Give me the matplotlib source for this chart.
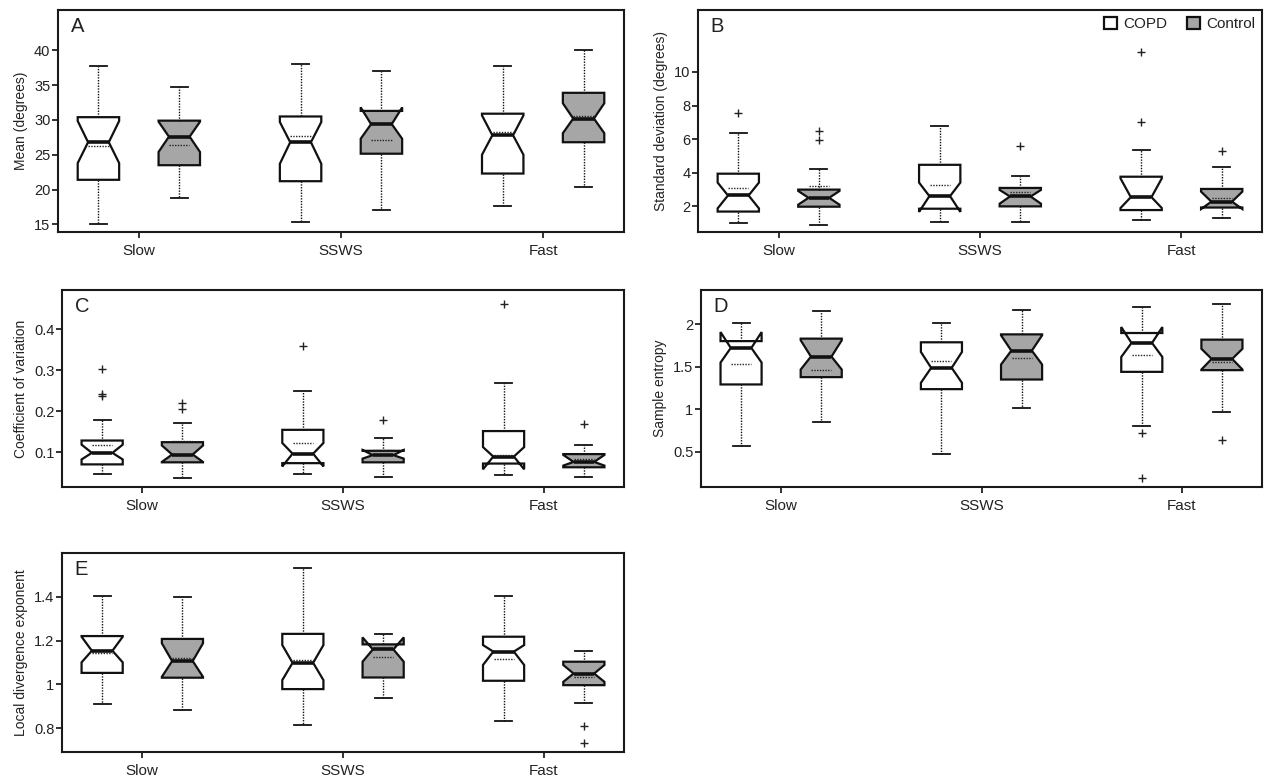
import matplotlib
matplotlib.use("Agg")
import matplotlib.pyplot as plt
from matplotlib.patches import Patch
from matplotlib.ticker import FormatStrFormatter

plt.rcParams['font.family'] = ['Liberation Sans', 'DejaVu Sans']
plt.rcParams['text.color'] = '#222222'
plt.rcParams['axes.labelcolor'] = '#222222'
plt.rcParams['xtick.color'] = '#222222'
plt.rcParams['ytick.color'] = '#222222'

speeds = ["Slow", "SSWS", "Fast"]
groups = ["COPD", "Control"]
colors = ["white", "#a6a6a6"]

# each stat: [[COPD slow, sswS, fast], [Control slow, ssws, fast]]
# A - mean angle
a_whishi = [[37.8, 38.1, 37.7], [34.8, 37.0, 40.1]]
a_q3 = [[30.4, 30.5, 30.9], [29.9, 31.3, 33.9]]
a_cihi = [[29.85, 29.7, 30.65], [29.75, 31.8, 32.4]]
a_med = [[26.8, 26.8, 27.8], [27.6, 29.4, 30.2]]
a_cilo = [[23.8, 23.7, 25.0], [25.4, 27.3, 28.1]]
a_q1 = [[21.4, 21.2, 22.3], [23.5, 25.15, 26.8]]
a_whislo = [[15.0, 15.3, 17.6], [18.8, 17.1, 20.3]]
a_mean = [[26.2, 27.7, 28.2], [26.4, 27.1, 30.6]]
a_fliers = [[[], [], []], [[], [], []]]

# B - standard deviation
b_whishi = [[6.36, 6.78, 5.36], [4.20, 3.81, 4.34]]
b_q3 = [[3.93, 4.46, 3.75], [2.98, 3.08, 3.02]]
b_cihi = [[3.40, 3.40, 3.65], [2.90, 2.96, 2.86]]
b_med = [[2.63, 2.59, 2.53], [2.49, 2.57, 2.26]]
b_cilo = [[1.86, 1.65, 1.88], [2.08, 2.14, 1.82]]
b_q1 = [[1.67, 1.84, 1.76], [1.96, 1.98, 1.91]]
b_whislo = [[0.98, 1.04, 1.19], [0.88, 1.04, 1.31]]
b_mean = [[3.10, 3.24, 2.61], [3.22, 2.81, 2.47]]
b_fliers = [[[7.54], [], [11.2, 7.01]], [[6.50, 5.95], [5.56], [5.30]]]

# C - coefficient of variation
c_whishi = [[0.178, 0.250, 0.270], [0.172, 0.136, 0.118]]
c_q3 = [[0.129, 0.155, 0.152], [0.125, 0.104, 0.096]]
c_cihi = [[0.119, 0.123, 0.113], [0.117, 0.106, 0.094]]
c_med = [[0.099, 0.097, 0.090], [0.095, 0.0935, 0.077]]
c_cilo = [[0.083, 0.066, 0.059], [0.077, 0.085, 0.068]]
c_q1 = [[0.071, 0.074, 0.073], [0.076, 0.076, 0.064]]
c_whislo = [[0.047, 0.0475, 0.045], [0.037, 0.041, 0.040]]
c_mean = [[0.119, 0.122, 0.094], [0.127, 0.105, 0.085]]
c_fliers = [[[0.304, 0.242, 0.237], [0.360], [0.461]], [[0.220, 0.206], [0.178], [0.170]]]

# D - sample entropy
d_whishi = [[2.012, 2.012, 2.203], [2.148, 2.171, 2.234]]
d_q3 = [[1.80, 1.786, 1.895], [1.829, 1.879, 1.817]]
d_cihi = [[1.906, 1.673, 1.965], [1.81, 1.868, 1.71]]
d_med = [[1.72, 1.486, 1.778], [1.618, 1.688, 1.591]]
d_cilo = [[1.548, 1.31, 1.614], [1.466, 1.525, 1.466]]
d_q1 = [[1.291, 1.236, 1.439], [1.377, 1.349, 1.459]]
d_whislo = [[0.574, 0.469, 0.808], [0.851, 1.014, 0.972]]
d_mean = [[1.529, 1.568, 1.638], [1.459, 1.599, 1.56]]
d_fliers = [[[], [], [0.718, 0.196]], [[], [], [0.637]]]

# E - local divergence exponent
e_whishi = [[1.406, 1.531, 1.406], [1.40, 1.231, 1.151]]
e_q3 = [[1.221, 1.231, 1.218], [1.208, 1.183, 1.104]]
e_cihi = [[1.218, 1.18, 1.18], [1.188, 1.215, 1.089]]
e_med = [[1.154, 1.099, 1.15], [1.107, 1.16, 1.05]]
e_cilo = [[1.101, 1.02, 1.089], [1.035, 1.104, 1.012]]
e_q1 = [[1.053, 0.979, 1.017], [1.031, 1.032, 0.997]]
e_whislo = [[0.913, 0.814, 0.835], [0.882, 0.937, 0.916]]
e_mean = [[1.142, 1.111, 1.115], [1.119, 1.127, 1.035]]
e_fliers = [[[], [], []], [[], [], [0.812, 0.733]]]

panels = [
    ("A", "Mean (degrees)", (a_whishi, a_q3, a_cihi, a_med, a_cilo, a_q1, a_whislo, a_mean, a_fliers),
     (13.9, 45.8), [15, 20, 25, 30, 35, 40], (58, 10, 624, 232)),
    ("B", "Standard deviation (degrees)", (b_whishi, b_q3, b_cihi, b_med, b_cilo, b_q1, b_whislo, b_mean, b_fliers),
     (0.45, 13.7), [2, 4, 6, 8, 10], (698, 10, 1262, 232)),
    ("C", "Coefficient of variation", (c_whishi, c_q3, c_cihi, c_med, c_cilo, c_q1, c_whislo, c_mean, c_fliers),
     (0.016, 0.495), [0.1, 0.2, 0.3, 0.4], (62, 290, 624, 487)),
    ("D", "Sample entropy", (d_whishi, d_q3, d_cihi, d_med, d_cilo, d_q1, d_whislo, d_mean, d_fliers),
     (0.087, 2.40), [0.5, 1, 1.5, 2], (701, 290, 1262, 487)),
    ("E", "Local divergence exponent", (e_whishi, e_q3, e_cihi, e_med, e_cilo, e_q1, e_whislo, e_mean, e_fliers),
     (0.692, 1.60), [0.8, 1, 1.2, 1.4], (62, 553, 624, 752)),
]

W, H = 1264, 781
fig = plt.figure(figsize=(W / 100, H / 100), dpi=100)

offsets = [-0.2, 0.2]
bw = 0.205

for letter, ylabel, st, ylim, yticks, (x0, y0, x1, y1) in panels:
    ax = fig.add_axes([x0 / W, 1 - y1 / H, (x1 - x0) / W, (y1 - y0) / H])
    whishi, q3, cihi, med, cilo, q1, whislo, mean, fliers = st
    for g in range(2):
        stats = []
        pos = []
        for s in range(3):
            stats.append(dict(med=med[g][s], q1=q1[g][s], q3=q3[g][s],
                              cilo=cilo[g][s], cihi=cihi[g][s],
                              whislo=whislo[g][s], whishi=whishi[g][s],
                              fliers=fliers[g][s]))
            pos.append(s + 1 + offsets[g])
        ax.bxp(stats, positions=pos, widths=bw, capwidths=0.085,
               shownotches=True, patch_artist=True, manage_ticks=False,
               boxprops=dict(facecolor=colors[g], edgecolor='#111111', linewidth=1.6),
               medianprops=dict(color='#111111', linewidth=2.6, solid_capstyle='butt'),
               whiskerprops=dict(color='#111111', linewidth=1.0, linestyle=(0, (1, 1))),
               capprops=dict(color='#111111', linewidth=1.3),
               flierprops=dict(marker='+', markeredgecolor='#222222', markersize=6,
                               markeredgewidth=1.0))
        ax.hlines(mean[g], [p - 0.05 for p in pos], [p + 0.05 for p in pos],
                  colors='#222222', linestyles=(0, (1, 1)), linewidth=1.0, zorder=4)

    ax.set_xlim(0.6, 3.4)
    ax.set_ylim(*ylim)
    ax.set_yticks(yticks)
    ax.yaxis.set_major_formatter(FormatStrFormatter('%g'))
    ax.set_xticks([1, 2, 3])
    ax.set_xticklabels(speeds, fontsize=11)
    ax.tick_params(axis='y', labelsize=10.5, length=4, width=1.3, pad=1.5)
    ax.tick_params(axis='x', length=4.5, width=1.3, pad=4)
    for sp in ax.spines.values():
        sp.set_linewidth(1.5)
        sp.set_color('#1a1a1a')
    ax.set_ylabel(ylabel, fontsize=10, labelpad=4)
    ax.annotate(letter, xy=(0, 1), xycoords='axes fraction', xytext=(9, -5),
                textcoords='offset points', ha='left', va='top', fontsize=14.5)
    if letter == "B":
        handles = [Patch(facecolor=c, edgecolor='#111111', linewidth=1.6) for c in colors]
        ax.legend(handles, groups, loc='upper right', ncol=2, frameon=False, fontsize=11,
                  handlelength=0.85, handleheight=0.85, handletextpad=0.4,
                  columnspacing=1.3, borderaxespad=0.25, borderpad=0.2)

fig.savefig("out.png", dpi=100)
